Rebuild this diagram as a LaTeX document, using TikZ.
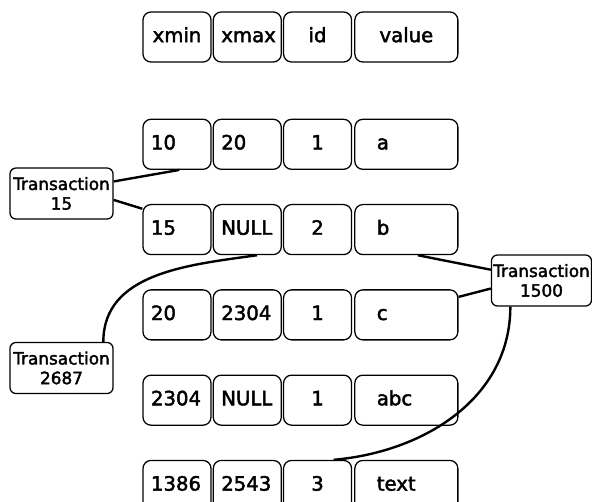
\documentclass[tikz,border=0pt]{standalone}
\usepackage{fontspec}
\setmainfont{DejaVu Sans}[UprightFeatures={FakeBold=2.2}]
\usetikzlibrary{positioning}

\begin{document}
\begin{tikzpicture}[
    x=0.025cm, y=0.025cm,
    font=\fontsize{14}{16}\selectfont,
    cell/.style={
		rectangle,
		rounded corners=0.2cm,
		draw=black,
		line width=0.9pt,
		minimum height=1.25cm,
		text width=1.3cm,
		text height=0.73em,
		text depth=0pt,
		inner xsep=0.2cm,
		align=left,
		fill=white
	},
	idcell/.style={
		cell,
		align=center
	},
	valcell/.style={
		cell,
		text width=1.475cm,
		inner xsep=0.55cm
	},
	headcell/.style={
		cell,
		align=center
	},
	trans/.style={
		rectangle,
		rounded corners=0.15cm,
		draw=black,
		line width=0.9pt,
		minimum height=1.275cm,
		minimum width=2.575cm,
		inner sep=1pt,
		align=center,
		font=\fontsize{12}{14}\selectfont,
		fill=white
	},
	link/.style={
		line width=1.7pt
	}
  ]

 \useasboundingbox (0,0) rectangle (592,-501);

% header
 \node [headcell] (h1) at (177,-37) {xmin};
 \node [headcell, right=0.025cm of h1] (h2) {xmax};
 \node [headcell, right=0.025cm of h2] (h3) {id};
 \node [headcell, valcell, align=center, inner xsep=0.2cm, text width=2.175cm, right=0.05cm of h3] (h4) {value};

% rows
 \node [cell, below=1.4cm of h1] (r1a) {10};
 \node [cell, right=0.025cm of r1a] (r1b) {20};
 \node [idcell, right=0.025cm of r1b] (r1c) {1};
 \node [valcell, right=0.05cm of r1c] (r1d) {a};

 \node [cell, below=0.85cm of r1a] (r2a) {15};
 \node [cell, right=0.025cm of r2a] (r2b) {NULL};
 \node [idcell, right=0.025cm of r2b] (r2c) {2};
 \node [valcell, right=0.05cm of r2c] (r2d) {b};

 \node [cell, below=0.85cm of r2a] (r3a) {20};
 \node [cell, right=0.025cm of r3a] (r3b) {2304};
 \node [idcell, right=0.025cm of r3b] (r3c) {1};
 \node [valcell, right=0.05cm of r3c] (r3d) {c};

 \node [cell, below=0.85cm of r3a] (r4a) {2304};
 \node [cell, right=0.025cm of r4a] (r4b) {NULL};
 \node [idcell, right=0.025cm of r4b] (r4c) {1};
 \node [valcell, right=0.05cm of r4c] (r4d) {abc};

 \node [cell, below=0.85cm of r4a] (r5a) {1386};
 \node [cell, right=0.025cm of r5a] (r5b) {2543};
 \node [idcell, right=0.025cm of r5b] (r5c) {3};
 \node [valcell, right=0.05cm of r5c] (r5d) {text};

% transactions
 \node [trans] (t15) at (61.5,-193.5) {Transaction\\15};
 \node [trans] (t2687) at (61.5,-368) {Transaction\\2687};
 \node [trans, minimum width=2.5cm] (t1500) at (541.5,-280.5) {Transaction\\1500};

 \draw [link] (t15.13) -- (r1a.-85);
 \draw [link] (t15.-7) -- (r2a.149);
 \draw [link] (t1500.168) -- (r2d.-66);
 \draw [link] (t1500.-171) -- (r3d.19);
 \draw [link] (t2687.32) to [out=90, in=188] (r2b.-69);
 \draw [link] (t1500.-140) to [out=-90, in=5] (r5c.58);

\end{tikzpicture}
\end{document}
